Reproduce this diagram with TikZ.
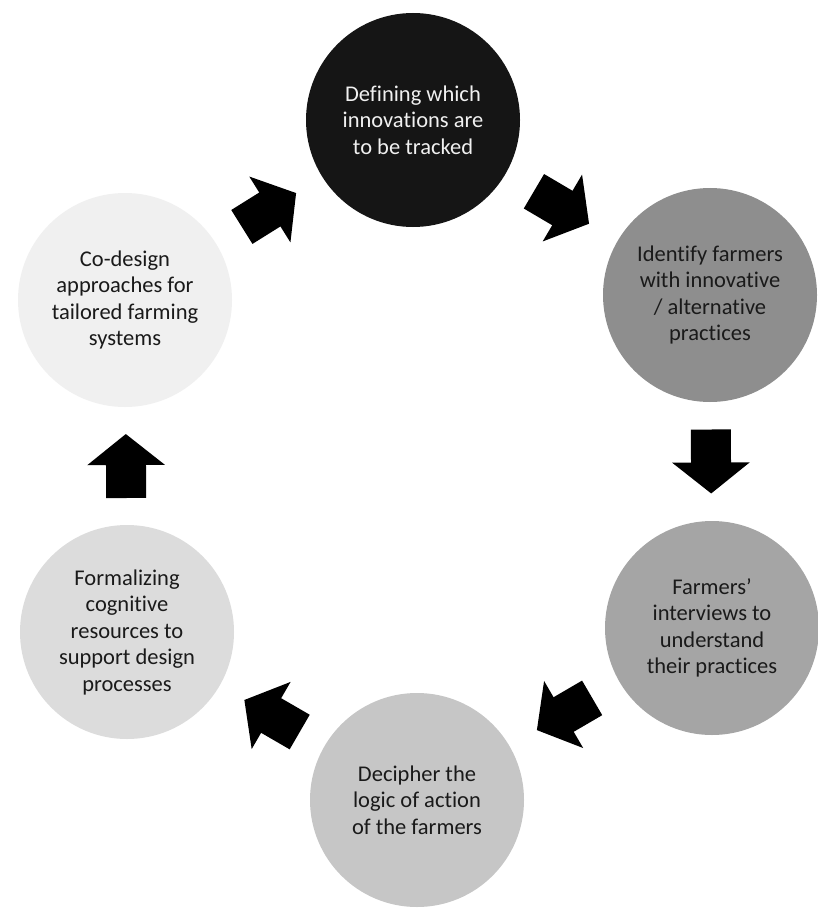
\documentclass[tikz,border=0pt]{standalone}
\usepackage{fontspec}
\setmainfont{Carlito}[Ligatures={NoCommon,NoContextual}]
\usetikzlibrary{calc,arrows.meta}

\definecolor{stepA}{HTML}{151515}
\definecolor{stepB}{HTML}{8E8E8E}
\definecolor{stepC}{HTML}{A5A5A5}
\definecolor{stepD}{HTML}{C6C6C6}
\definecolor{stepE}{HTML}{DCDCDC}
\definecolor{stepF}{HTML}{F0F0F0}
\definecolor{ink}{HTML}{1A1A1A}

\tikzset{
  stage/.style={circle, draw=none, minimum size=214pt, inner sep=0pt,
    align=center, text=ink,
    font=\fontsize{22.5}{26.5}\selectfont},
  flow/.style={line width=40pt, black,
    -{Triangle[width=76pt,length=31pt]}}
}

\begin{document}
\begin{tikzpicture}[x=1pt,y=-1pt]
  \fill[white] (0,0) rectangle (817,912);
  \useasboundingbox (0,0) rectangle (817,912);

  % the six stages of the cycle
  \node[stage, fill=stepA, text=white!94!black] (A) at (413,120)
    {Defining which\\innovations are\\to be tracked};
  \node[stage, fill=stepB] (B) at (710,295)
    {Identify farmers\\with innovative\\/ alternative\\practices};
  \node[stage, fill=stepC] (C) at (712,628)
    {Farmers’\\interviews to\\understand\\their practices};
  \node[stage, fill=stepD] (D) at (417,800)
    {Decipher the\\logic of action\\of the farmers};
  \node[stage, fill=stepE] (E) at (127,632)
    {Formalizing\\cognitive\\resources to\\support design\\processes};
  \node[stage, fill=stepF] (F) at (125,300)
    {Co-design\\approaches for\\tailored farming\\systems};

  % block arrows half-way between consecutive stages
  \foreach \s/\t in {F/A, A/B, B/C, C/D, D/E, E/F} {
    \draw[flow] ($(\s)!0.5!(\t)!32pt!(\s)$) -- ($(\s)!0.5!(\t)!32pt!(\t)$);
  }
\end{tikzpicture}
\end{document}
